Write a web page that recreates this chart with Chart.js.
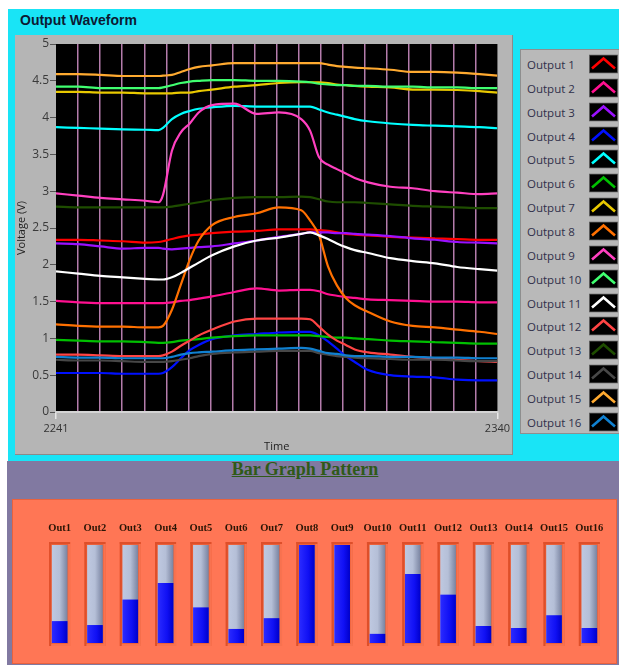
<!DOCTYPE html>
<html>
<head>
<meta charset="utf-8">
<title>Output Waveform</title>
<script src="https://cdn.jsdelivr.net/npm/chart.js@4.4.1/dist/chart.umd.min.js"></script>
<style>
    body { margin: 0; background: #ffffff; width: 619px; height: 665px; position: relative; overflow: hidden; font-family: "Open Sans", sans-serif; }
    #painelOnda { position: absolute; left: 8px; top: 9px; width: 611px; height: 452px; background: #19e4f6; }
    #tituloOnda { position: absolute; left: 20px; top: 12px; font: bold 14px "Liberation Sans", sans-serif; color: #0c1a33; }
    #caixaGrafico { position: absolute; left: 15px; top: 35px; width: 497px; height: 419px; background: #b5b5b5; border-right: 1px solid #8a8a8a; border-bottom: 1px solid #8a8a8a; }
    #chartOnda { position: absolute; left: 15px; top: 35px; }
    #legenda { position: absolute; left: 520px; top: 49px; width: 104px; height: 385px; background: #b9b9b9; border: 1px solid #8e8e8e; padding-top: 2px; box-sizing: border-box; }
    .itemLegenda { position: relative; height: 23.87px; }
    .itemLegenda span { position: absolute; left: 6px; top: 50%; transform: translateY(-50%); font: 11.5px "Open Sans", sans-serif; color: #30304a; white-space: nowrap; }
    .itemLegenda svg { position: absolute; left: 68px; top: 50%; transform: translateY(-50%); }
    #painelBarras { position: absolute; left: 7px; top: 461px; width: 612px; height: 204px; background: #8179a1; }
    #tituloBarras { position: absolute; left: 9px; top: 458px; width: 592px; text-align: center; font: bold 18px "Liberation Serif", serif; line-height: 22px; color: #2f5a18; text-decoration: underline; }
    #caixaBarras { position: absolute; left: 12px; top: 499px; width: 603px; height: 163px; background: #ff7655; border: 1px solid #e8623e; }
    #chartBarras { position: absolute; left: 12px; top: 500px; }
</style>
</head>
<body>
<div id="painelOnda"></div>
<div id="tituloOnda">Output Waveform</div>
<div id="caixaGrafico"></div>
<canvas id="chartOnda" width="498" height="420"></canvas>
<div id="legenda"></div>
<div id="painelBarras"></div>
<div id="tituloBarras">Bar Graph Pattern</div>
<div id="caixaBarras"></div>
<canvas id="chartBarras" width="605" height="164"></canvas>

<script>
// eixo de tempo (amostras)
var tempos = [2241, 2246, 2251, 2256, 2261, 2264, 2265, 2267, 2269, 2271, 2273, 2276, 2281, 2286, 2291,
              2296, 2298, 2300, 2302, 2304, 2306, 2308, 2311, 2316, 2321, 2326, 2331, 2336, 2340];

var out1  = [2.34, 2.34, 2.33, 2.32, 2.30, 2.31, 2.32, 2.35, 2.38, 2.40, 2.41, 2.43, 2.45, 2.46, 2.48, 2.48, 2.48, 2.47, 2.46, 2.44, 2.42, 2.41, 2.40, 2.38, 2.37, 2.36, 2.35, 2.34, 2.34];
var out2  = [1.51, 1.49, 1.48, 1.48, 1.48, 1.48, 1.48, 1.49, 1.51, 1.52, 1.54, 1.57, 1.63, 1.68, 1.65, 1.66, 1.66, 1.64, 1.60, 1.58, 1.56, 1.55, 1.53, 1.52, 1.51, 1.50, 1.50, 1.49, 1.49];
var out3  = [2.29, 2.28, 2.25, 2.22, 2.23, 2.23, 2.22, 2.21, 2.22, 2.23, 2.24, 2.25, 2.29, 2.33, 2.38, 2.42, 2.44, 2.44, 2.44, 2.43, 2.43, 2.42, 2.41, 2.39, 2.36, 2.34, 2.31, 2.30, 2.29];
var out4  = [0.53, 0.53, 0.53, 0.52, 0.52, 0.52, 0.53, 0.61, 0.73, 0.84, 0.91, 0.99, 1.04, 1.06, 1.08, 1.09, 1.09, 1.04, 0.96, 0.86, 0.76, 0.68, 0.57, 0.50, 0.48, 0.47, 0.44, 0.43, 0.43];
var out5  = [3.87, 3.86, 3.85, 3.84, 3.835, 3.83, 3.86, 3.98, 4.05, 4.09, 4.12, 4.14, 4.16, 4.15, 4.15, 4.15, 4.15, 4.11, 4.07, 4.04, 4.01, 3.98, 3.95, 3.92, 3.90, 3.89, 3.88, 3.87, 3.855];
var out6  = [0.98, 0.97, 0.96, 0.96, 0.95, 0.94, 0.94, 0.95, 0.97, 0.98, 0.99, 1.01, 1.03, 1.04, 1.04, 1.04, 1.04, 1.03, 1.02, 1.01, 1.01, 1.00, 0.99, 0.97, 0.96, 0.95, 0.94, 0.93, 0.93];
var out7  = [4.35, 4.35, 4.34, 4.34, 4.33, 4.33, 4.33, 4.33, 4.34, 4.34, 4.36, 4.38, 4.42, 4.44, 4.47, 4.48, 4.48, 4.48, 4.47, 4.45, 4.44, 4.43, 4.42, 4.41, 4.38, 4.38, 4.375, 4.36, 4.34];
var out8  = [1.19, 1.17, 1.16, 1.16, 1.15, 1.15, 1.17, 1.39, 1.73, 2.07, 2.33, 2.54, 2.65, 2.70, 2.78, 2.74, 2.60, 2.40, 1.98, 1.72, 1.55, 1.45, 1.36, 1.23, 1.17, 1.15, 1.12, 1.09, 1.06];
var out9  = [2.97, 2.94, 2.91, 2.89, 2.87, 2.85, 2.95, 3.55, 3.80, 3.92, 4.07, 4.17, 4.19, 4.05, 4.07, 3.98, 3.82, 3.46, 3.36, 3.30, 3.24, 3.18, 3.12, 3.06, 3.04, 3.00, 2.98, 2.96, 2.97];
var out10 = [4.42, 4.42, 4.40, 4.40, 4.40, 4.40, 4.41, 4.44, 4.47, 4.49, 4.50, 4.51, 4.51, 4.50, 4.50, 4.49, 4.48, 4.46, 4.45, 4.44, 4.44, 4.43, 4.43, 4.42, 4.42, 4.41, 4.41, 4.40, 4.40];
var out11 = [1.91, 1.88, 1.85, 1.83, 1.81, 1.80, 1.80, 1.83, 1.89, 1.96, 2.03, 2.13, 2.25, 2.33, 2.37, 2.42, 2.44, 2.40, 2.35, 2.29, 2.24, 2.20, 2.16, 2.09, 2.05, 2.02, 1.97, 1.94, 1.92];
var out12 = [0.78, 0.78, 0.77, 0.76, 0.76, 0.76, 0.77, 0.82, 0.90, 0.97, 1.04, 1.12, 1.23, 1.27, 1.27, 1.27, 1.26, 1.16, 1.05, 0.97, 0.91, 0.85, 0.81, 0.78, 0.75, 0.73, 0.71, 0.69, 0.68];
var out13 = [2.79, 2.78, 2.78, 2.78, 2.78, 2.78, 2.78, 2.79, 2.81, 2.83, 2.85, 2.88, 2.91, 2.92, 2.92, 2.925, 2.92, 2.89, 2.86, 2.85, 2.85, 2.85, 2.84, 2.82, 2.80, 2.79, 2.78, 2.77, 2.77];
var out14 = [0.71, 0.70, 0.70, 0.69, 0.68, 0.68, 0.68, 0.69, 0.71, 0.73, 0.76, 0.79, 0.81, 0.82, 0.83, 0.83, 0.83, 0.80, 0.78, 0.76, 0.75, 0.74, 0.73, 0.72, 0.71, 0.71, 0.70, 0.69, 0.69];
var out15 = [4.59, 4.59, 4.58, 4.565, 4.565, 4.565, 4.57, 4.58, 4.62, 4.66, 4.69, 4.71, 4.74, 4.74, 4.74, 4.74, 4.74, 4.74, 4.72, 4.70, 4.69, 4.68, 4.67, 4.65, 4.62, 4.62, 4.61, 4.59, 4.57];
var out16 = [0.75, 0.74, 0.74, 0.73, 0.73, 0.73, 0.73, 0.75, 0.78, 0.80, 0.81, 0.82, 0.84, 0.85, 0.86, 0.87, 0.86, 0.83, 0.80, 0.79, 0.77, 0.76, 0.76, 0.75, 0.75, 0.74, 0.74, 0.73, 0.73];

var nomesSaidas = ['Output 1', 'Output 2', 'Output 3', 'Output 4', 'Output 5', 'Output 6', 'Output 7', 'Output 8',
                   'Output 9', 'Output 10', 'Output 11', 'Output 12', 'Output 13', 'Output 14', 'Output 15', 'Output 16'];
var coresSaidas = ['#ff0000', '#ff1090', '#9a10ff', '#0010ff', '#00ffff', '#00c000', '#e8c800', '#ff7000',
                   '#ff40c0', '#40ff70', '#ffffff', '#ff4444', '#1e4d00', '#474747', '#ffaa30', '#1080d0'];
var valoresSaidas = [out1, out2, out3, out4, out5, out6, out7, out8, out9, out10, out11, out12, out13, out14, out15, out16];

var tensaoMin = 0, tensaoMax = 5, tensaoPasso = 0.5;
var tempoInicio = 2241, tempoFim = 2340;

// barras
var rotulosBarras = ['Out1', 'Out2', 'Out3', 'Out4', 'Out5', 'Out6', 'Out7', 'Out8',
                     'Out9', 'Out10', 'Out11', 'Out12', 'Out13', 'Out14', 'Out15', 'Out16'];
var niveisBarras = [22, 18, 44, 61, 36, 14, 25, 100, 100, 9, 70, 49, 17, 15, 28, 15];
var nivelMax = 100;


// LEGENDA
var legenda = document.getElementById('legenda');
nomesSaidas.forEach(function (nome, i) {
    var item = document.createElement('div');
    item.className = 'itemLegenda';
    item.innerHTML = '<span>' + nome + '</span>' +
        '<svg width="29" height="19"><rect x="0.5" y="0.5" width="28" height="18" fill="#000" stroke="#5a5a5a"/>' +
        '<polyline points="3,14 14.5,4 26,14" fill="none" stroke="' + coresSaidas[i] + '" stroke-width="2.6"/></svg>';
    legenda.appendChild(item);
});

// fundo preto da area do grafico
var fundoPlot = {
    id: 'fundoPlot',
    beforeDraw: function (chart) {
        var a = chart.chartArea;
        chart.ctx.save();
        chart.ctx.fillStyle = '#000000';
        chart.ctx.fillRect(a.left, a.top, a.right - a.left, a.bottom - a.top);
        chart.ctx.restore();
    }
};

// GRAFICO DE ONDA
new Chart(document.getElementById('chartOnda'), {
    type: 'line',
    data: {
        datasets: valoresSaidas.map(function (serie, i) {
            return {
                label: nomesSaidas[i],
                data: serie.map(function (v, k) { return { x: tempos[k], y: v }; }),
                borderColor: coresSaidas[i],
                borderWidth: 2.2,
                pointRadius: 0,
                cubicInterpolationMode: 'monotone',
                order: valoresSaidas.length - i
            };
        })
    },
    options: {
        responsive: false,
        animation: false,
        layout: { padding: { top: 9, right: 14, left: 0, bottom: 0 } },
        plugins: {
            legend: { display: false },
            tooltip: { enabled: false }
        },
        scales: {
            x: {
                type: 'linear',
                min: tempoInicio,
                max: tempoFim,
                afterBuildTicks: function (scale) {
                    var t = [];
                    for (var k = 0; k <= 20; k++) t.push({ value: tempoInicio + k * (tempoFim - tempoInicio) / 20 });
                    scale.ticks = t;
                },
                afterFit: function (scale) { scale.height = 43; },
                ticks: {
                    autoSkip: false,
                    maxRotation: 0,
                    padding: 3,
                    color: '#333333',
                    font: { family: 'Open Sans', size: 11 },
                    callback: function (v, i, arr) {
                        return (i === 0 || i === arr.length - 1) ? String(Math.round(v)) : '';
                    }
                },
                grid: {
                    lineWidth: 1.5,
                    tickLength: 7,
                    color: function (c) { return (c.index === 0 || c.index === 20) ? 'rgba(0,0,0,0)' : '#b47cab'; },
                    tickColor: function (c) { return (c.index === 0 || c.index === 20) ? '#e8e8e8' : 'rgba(0,0,0,0)'; }
                },
                border: { display: true, color: '#d4d4d4', width: 2 },
                title: {
                    display: true,
                    text: 'Time',
                    color: '#222222',
                    font: { family: 'Open Sans', size: 11 },
                    padding: { top: 0, bottom: 2 }
                }
            },
            y: {
                min: tensaoMin,
                max: tensaoMax,
                afterFit: function (scale) { scale.width = 41; },
                ticks: {
                    stepSize: tensaoPasso,
                    padding: 1,
                    color: '#3a3a3a',
                    font: { family: 'Open Sans', size: 12 },
                    callback: function (v) { return String(v); }
                },
                grid: { drawOnChartArea: false, tickLength: 6, color: '#555555' },
                border: { display: false },
                title: {
                    display: true,
                    text: 'Voltage (V)',
                    color: '#222222',
                    font: { family: 'Open Sans', size: 11 },
                    padding: 0
                }
            }
        }
    },
    plugins: [fundoPlot]
});


// gradiente horizontal para cada barra
function gradienteBarra(ctx, paradas) {
    var chart = ctx.chart;
    var eixo = chart.scales.x;
    if (!eixo || ctx.dataIndex === undefined) return paradas[1][1];
    var cx = eixo.getPixelForValue(ctx.dataIndex);
    if (!isFinite(cx)) return paradas[1][1];
    var g = chart.ctx.createLinearGradient(cx - 7.5, 0, cx + 7.5, 0);
    paradas.forEach(function (p) { g.addColorStop(p[0], p[1]); });
    return g;
}

// moldura rebaixada em volta de cada barra
var molduraBarras = {
    id: 'molduraBarras',
    beforeDatasetsDraw: function (chart) {
        var meta = chart.getDatasetMeta(1);
        var c = chart.ctx;
        c.save();
        meta.data.forEach(function (el) {
            var x = el.x - el.width / 2, topo = Math.min(el.y, el.base), alt = Math.abs(el.base - el.y);
            c.fillStyle = '#ec6039';
            c.fillRect(x - 3, topo - 3, el.width + 6, alt + 6);
            c.fillStyle = '#de4f2a';
            c.fillRect(x - 3, topo - 3, el.width + 6, 2);
            c.fillRect(x - 3, topo - 3, 2, alt + 6);
            c.fillStyle = '#f87250';
            c.fillRect(x + el.width + 1, topo - 1, 2, alt + 4);
            c.fillRect(x - 1, topo + alt + 1, el.width + 4, 2);
        });
        c.restore();
    }
};

// GRAFICO DE BARRAS
var graficoBarras = new Chart(document.getElementById('chartBarras'), {
    type: 'bar',
    data: {
        labels: rotulosBarras,
        datasets: [{
            label: 'nivel',
            data: niveisBarras,
            barThickness: 15,
            grouped: false,
            order: 1,
            backgroundColor: function (ctx) {
                return gradienteBarra(ctx, [[0, '#2a2aff'], [0.6, '#1010f4'], [1, '#0000cc']]);
            }
        }, {
            label: 'fundo',
            data: rotulosBarras.map(function () { return nivelMax; }),
            barThickness: 15,
            grouped: false,
            order: 2,
            backgroundColor: function (ctx) {
                return gradienteBarra(ctx, [[0, '#bec8e0'], [0.5, '#b5bfd7'], [1, '#7b85a2']]);
            }
        }]
    },
    options: {
        responsive: false,
        animation: false,
        layout: { padding: { top: 0, right: 10, left: 30, bottom: 21 } },
        plugins: {
            legend: { display: false },
            tooltip: { enabled: false }
        },
        scales: {
            x: {
                position: 'top',
                afterFit: function (scale) { scale.height = 45; },
                grid: { display: false },
                border: { display: false },
                ticks: {
                    padding: 2,
                    maxRotation: 0,
                    autoSkip: false,
                    color: '#2a1505',
                    font: { family: 'Liberation Serif', size: 10.5, weight: 'bold' }
                }
            },
            y: {
                display: false,
                min: 0,
                max: nivelMax
            }
        }
    },
    plugins: [molduraBarras]
});
graficoBarras.update();
</script>
</body>
</html>
